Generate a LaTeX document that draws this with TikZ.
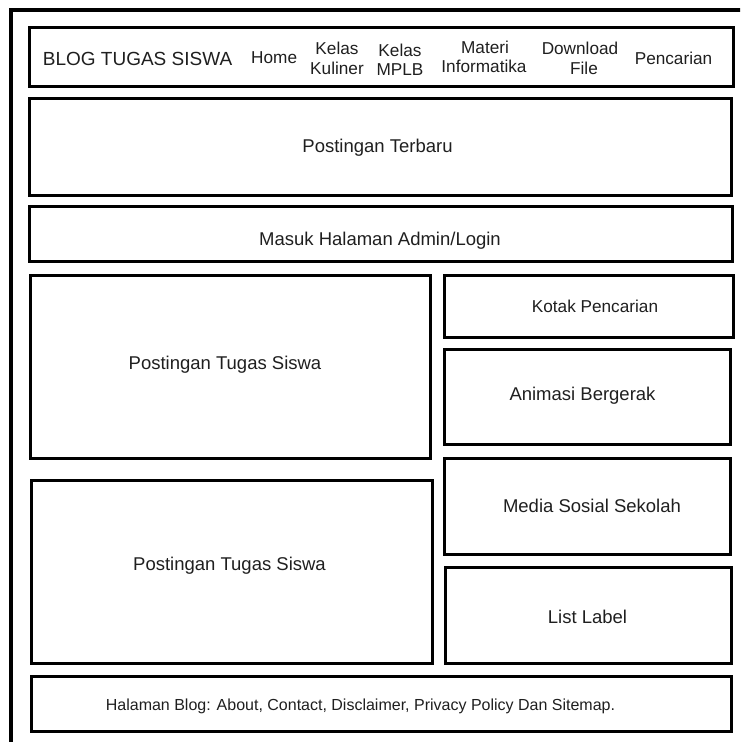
\documentclass[tikz,border=0pt]{standalone}
\usepackage{fontspec}
\setmainfont{Liberation Sans}
\begin{document}
\begin{tikzpicture}[x=1pt,y=-1pt,
  frame/.style={line width=4pt,draw=black},
  boxe/.style={draw=black,line width=3pt,anchor=north west,inner sep=0pt,outer sep=0pt},
  txt/.style={inner sep=0pt,anchor=base,text=black!88},
  nav/.style={txt,font=\fontsize{17.2}{20}\selectfont},
  body/.style={txt,font=\fontsize{18.5}{22}\selectfont}]
\useasboundingbox (0,0) rectangle (740,742);
\clip (0,0) rectangle (740,742);
% outer frame (only top and left edges visible)
\coordinate (ftl) at (10.5,10);
\coordinate (ftr) at (746,10);
\coordinate (fbl) at (10.5,748);
\draw[frame] (ftr) -- (ftl) -- (fbl);
% boxes
\node[boxe,minimum width=704pt,minimum height=59.5pt] (hdr) at (29,27) {};
\node[boxe,minimum width=702.5pt,minimum height=96.5pt] (terbaru) at (29,98.5) {};
\node[boxe,minimum width=703pt,minimum height=55pt] (masuk) at (29,206.5) {};
\node[boxe,minimum width=400pt,minimum height=183pt] (post1) at (30,275) {};
\node[boxe,minimum width=401pt,minimum height=182.5pt] (post2) at (31.5,480.5) {};
\node[boxe,minimum width=289pt,minimum height=62.5pt] (kotak) at (444.5,275) {};
\node[boxe,minimum width=285.5pt,minimum height=95pt] (animasi) at (444.5,349.5) {};
\node[boxe,minimum width=285.5pt,minimum height=96pt] (media) at (444.5,458.5) {};
\node[boxe,minimum width=285.5pt,minimum height=95.5pt] (listlbl) at (445.5,567.5) {};
\node[boxe,minimum width=700.5pt,minimum height=55pt] (footer) at (31,676.5) {};
% header texts
\node[txt,anchor=base west,font=\fontsize{19}{22}\selectfont] (blog) at (42.7,65) {BLOG TUGAS SISWA};
\node[nav,anchor=base west] (home) at (251,63) {Home};
\node[nav] (kul1) at (337,54) {Kelas};
\node[nav] (kul2) at (337,74.3) {Kuliner};
\node[nav] (mplb1) at (400,56) {Kelas};
\node[nav] (mplb2) at (400,75) {MPLB};
\node[nav] (inf1) at (485,53.3) {Materi};
\node[nav] (inf2) at (484,72.7) {Informatika};
\node[nav] (dl1) at (580,54) {Download};
\node[nav] (dl2) at (584,74) {File};
\node[nav] (cari) at (673.5,64) {Pencarian};
% box texts
\node[body] (tTerbaru) at (377.5,152) {Postingan Terbaru};
\node[body] (tMasuk) at (380,245.7) {Masuk Halaman Admin/Login};
\node[body] (tPost1) at (225,369.3) {Postingan Tugas Siswa};
\node[body] (tPost2) at (229.5,570) {Postingan Tugas Siswa};
\node[txt,font=\fontsize{17.2}{20}\selectfont] (tKotak) at (595,312.3) {Kotak Pencarian};
\node[body] (tAnimasi) at (582.5,400.7) {Animasi Bergerak};
\node[body] (tMedia) at (592,512.3) {Media Sosial Sekolah};
\node[body] (tList) at (587.5,623.3) {List Label};
\node[txt,font=\fontsize{16}{19}\selectfont] (tFooter) at (360.5,710) {Halaman Blog: About, Contact, Disclaimer, Privacy Policy Dan Sitemap.};
\end{tikzpicture}
\end{document}
